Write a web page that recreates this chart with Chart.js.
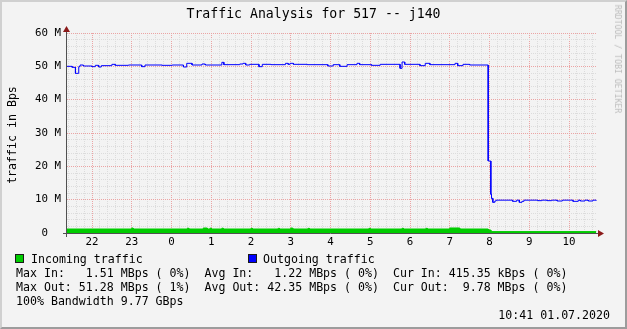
<!DOCTYPE html>
<html>
<head>
<meta charset="utf-8">
<script src="https://cdn.jsdelivr.net/npm/chart.js@4.4.1/dist/chart.umd.min.js"></script>
<style>
html, body { margin: 0; padding: 0; background: #f3f3f3; }
#wrap { position: relative; width: 627px; height: 329px; background: #f3f3f3; overflow: hidden;
        font-family: 'DejaVu Sans Mono', monospace; color: #000; }
#frame { position: absolute; left: 0; top: 0; width: 627px; height: 329px; box-sizing: border-box;
         border-top: 2px solid #d0d0d0; border-left: 2px solid #d0d0d0;
         border-right: 2px solid #9c9c9c; border-bottom: 2px solid #9c9c9c; }
#chart { position: absolute; left: 0; top: 0; }
.t { position: absolute; white-space: pre; font-size: 11.6px; line-height: 14px; }
.box { position: absolute; width: 7px; height: 7px; border: 1px solid #1a1a1a; }
</style>
</head>
<body>
<div id="wrap">
  <div id="frame"></div>
  <canvas id="chart" width="627" height="329"></canvas>
  <div class="t" style="left:0;top:6px;width:627px;text-align:center;font-size:13.2px;line-height:16px;">Traffic Analysis for 517 -- j140</div>
  <div class="t" style="left:12px;top:135px;transform:translate(-50%,-50%) rotate(-90deg);">traffic in Bps</div>
  <div class="t" style="left:618px;top:59px;transform:translate(-50%,-50%) rotate(90deg);font-size:8.2px;line-height:10px;color:#bcbcbc;">RRDTOOL / TOBI OETIKER</div>
  <div class="box" style="left:15px;top:254px;background:#00cc00;"></div>
  <div class="t" style="left:31px;top:252px;">Incoming traffic</div>
  <div class="box" style="left:248px;top:254px;background:#0000ff;"></div>
  <div class="t" style="left:263px;top:252px;">Outgoing traffic</div>
  <div class="t" style="left:16px;top:266px;">Max In:   1.51 MBps ( 0%)  Avg In:   1.22 MBps ( 0%)  Cur In: 415.35 kBps ( 0%)</div>
  <div class="t" style="left:16px;top:280px;">Max Out: 51.28 MBps ( 1%)  Avg Out: 42.35 MBps ( 0%)  Cur Out:  9.78 MBps ( 0%)</div>
  <div class="t" style="left:16px;top:294px;">100% Bandwidth 9.77 GBps</div>
  <div class="t" style="right:17px;top:308px;">10:41 01.07.2020</div>
</div>
<script>
// outgoing traffic, MBps, value holds from the time until the next one
const outTimes = ['21:20','21:30','21:35','21:40','21:42','21:47','22:00','22:05','22:10','22:14',
  '22:30','22:35','22:55','23:15','23:20','23:46','0:01','0:18','0:23','0:31',
  '0:46','0:51','1:16','1:19','1:43','1:48','1:52','1:58','2:12','2:17',
  '2:30','2:52','2:56','2:59','3:04','3:25','3:56','4:04','4:14','4:25',
  '4:40','4:44','5:02','5:15','5:45','5:48','5:52','6:15','6:23','6:30',
  '7:08','7:12','7:20','7:30','7:58','8:02','8:03','8:05','8:08','8:10',
  '8:35','8:41','8:45','8:49','8:52','9:13','9:19','9:27','9:34','9:42',
  '9:50','10:06','10:14','10:17','10:24','10:29','10:36','10:41'];
const outValues = [50.0,49.7,47.9,49.9,50.4,50.1,49.9,50.3,49.8,50.2,
  50.6,50.3,50.4,49.9,50.4,50.3,50.4,49.8,50.9,50.4,
  50.7,50.4,51.2,50.5,50.7,50.9,50.4,50.6,49.9,50.6,
  50.5,50.9,50.6,50.9,50.6,50.5,50.1,50.5,50.0,50.5,
  50.9,50.5,50.3,50.6,49.4,51.3,50.6,50.2,50.9,50.5,
  50.9,50.2,50.6,50.4,21.6,11.6,10.4,9.2,9.6,9.85,
  9.5,9.85,9.2,9.5,9.85,9.7,9.85,9.7,9.85,9.6,
  9.85,9.5,9.85,9.6,9.85,9.6,9.85,9.78];

// incoming traffic, MBps
const inTimes = ['21:20','23:00','23:02','0:24','0:26','0:48','0:54','0:58','1:00','1:16',
  '1:18','2:00','2:02','2:41','2:43','3:00','3:03','3:26','3:28','4:58',
  '5:00','5:48','5:50','6:24','6:26','7:00','7:15','7:58','8:02','10:41'];
const inValues = [1.2,1.5,1.2,1.45,1.2,1.5,1.2,1.45,1.2,1.45,
  1.2,1.4,1.2,1.4,1.2,1.5,1.2,1.4,1.2,1.4,
  1.2,1.4,1.2,1.4,1.2,1.51,1.2,0.9,0.42,0.42];

const xMin = 21.371, xMax = 34.704;   // 21:22 .. 10:42 (hours, next day +24)
const yMax = 60;

// hours after noon belong to the first day, morning hours to the next
const toHours = s => {
    const [h, m] = s.split(':').map(Number);
    return (h < 12 ? h + 24 : h) + m / 60;
};
const isWhole = (v, step) => Math.abs(v / step - Math.round(v / step)) < 1e-6;

// a value holds until the next sample, so repeat it just before the change
const steps = (times, values) => {
    const pts = [];
    times.forEach((t, i) => {
        const x = toHours(t);
        if (i > 0) pts.push({x: x, y: values[i - 1]});
        pts.push({x: x, y: values[i]});
    });
    return pts;
};

const xGrid = [];
for (let k = 107; k <= 173; k++) xGrid.push(k / 5);   // every 12 min
const yGrid = [];
for (let k = 0; k <= 30; k++) yGrid.push(k * 2);

const majorCol = '#eba4a4';
const minorCol = '#dcdcdc';
const mono = 'DejaVu Sans Mono';

const rrdAxes = {
    id: 'rrdAxes',
    afterDatasetsDraw(chart) {
        const {ctx, chartArea: a} = chart;
        const x0 = a.left - 0.5, y0 = a.bottom + 0.5;
        ctx.save();
        ctx.strokeStyle = '#505050';
        ctx.lineWidth = 1;
        ctx.beginPath();
        ctx.moveTo(a.left - 4, y0); ctx.lineTo(a.right + 1, y0);
        ctx.moveTo(x0, a.bottom + 4); ctx.lineTo(x0, a.top - 1);
        ctx.stroke();
        ctx.fillStyle = '#8b1a1a';
        ctx.beginPath();
        ctx.moveTo(a.right + 1, y0 - 3.5); ctx.lineTo(a.right + 7, y0); ctx.lineTo(a.right + 1, y0 + 3.5);
        ctx.fill();
        ctx.beginPath();
        ctx.moveTo(x0 - 3.5, a.top - 1); ctx.lineTo(x0, a.top - 7); ctx.lineTo(x0 + 3.5, a.top - 1);
        ctx.fill();
        ctx.restore();
    }
};

new Chart(document.getElementById('chart').getContext('2d'), {
    type: 'line',
    data: {
        datasets: [{
            label: 'Outgoing traffic',
            data: steps(outTimes, outValues),
            borderColor: '#0000ff',
            borderWidth: 1,
            pointRadius: 0,
            fill: false
        }, {
            label: 'Incoming traffic',
            data: steps(inTimes, inValues),
            borderColor: '#00cc00',
            backgroundColor: '#00cc00',
            borderWidth: 1,
            pointRadius: 0,
            fill: 'origin'
        }]
    },
    options: {
        responsive: false,
        animation: false,
        devicePixelRatio: 1,
        layout: {padding: {left: 0, top: 33, right: 30, bottom: 0}},
        plugins: {legend: {display: false}, title: {display: false}, tooltip: {enabled: false}},
        scales: {
            x: {
                type: 'linear',
                min: xMin,
                max: xMax,
                afterBuildTicks: s => { s.ticks = xGrid.map(v => ({value: v})); },
                afterFit: s => { s.height = 96; },
                ticks: {
                    autoSkip: false,
                    maxRotation: 0,
                    padding: 3,
                    color: '#000',
                    font: {family: mono, size: 10.8},
                    callback: v => isWhole(v, 1) ? String(Math.round(v) % 24) : ''
                },
                grid: {
                    drawTicks: false,
                    lineWidth: 1,
                    color: c => isWhole(c.tick.value, 1) ? majorCol : minorCol
                },
                border: {display: false, dash: [1, 1]}
            },
            y: {
                min: 0,
                max: yMax,
                afterBuildTicks: s => { s.ticks = yGrid.map(v => ({value: v})); },
                afterFit: s => { s.width = 67; },
                ticks: {
                    autoSkip: false,
                    padding: 6,
                    color: '#000',
                    font: {family: mono, size: 10.8},
                    callback: v => v === 0 ? '0  ' : (isWhole(v, 10) ? v + ' M' : '')
                },
                grid: {
                    drawTicks: false,
                    lineWidth: 1,
                    color: c => isWhole(c.tick.value, 10) ? majorCol : minorCol
                },
                border: {display: false, dash: [1, 1]}
            }
        }
    },
    plugins: [rrdAxes]
});
</script>
</body>
</html>
